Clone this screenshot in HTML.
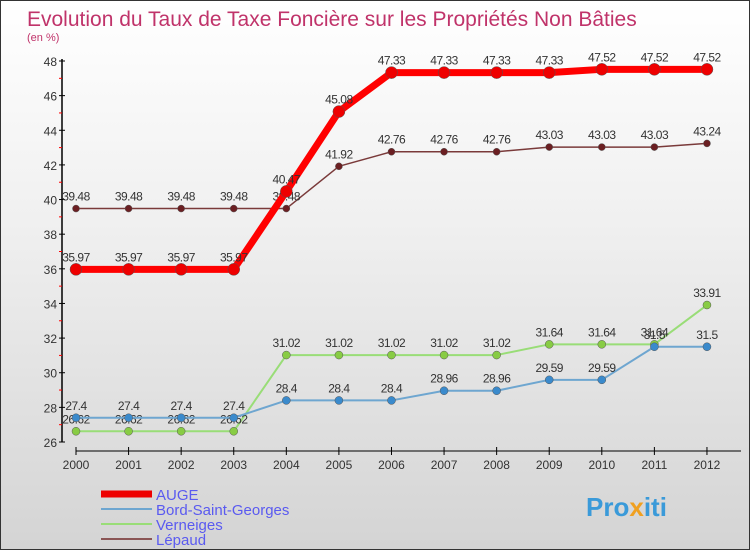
<!DOCTYPE html>
<html><head><meta charset="utf-8"><style>
body{margin:0}
#c{width:750px;height:550px;position:relative;background:linear-gradient(#ffffff,#f0f0f0 40%,#d4d4d4);border:1px solid #333;box-sizing:border-box;overflow:hidden;font-family:"Liberation Sans",sans-serif}
svg{position:absolute;left:0;top:0}
</style></head><body>
<div id="c">
<svg id="s" width="750" height="550">
<text x="26" y="25" font-size="21" fill="#c0336a">Evolution du Taux de Taxe Foncière sur les Propriétés Non Bâties</text>
<text x="26" y="40" font-size="11" fill="#c0336a">(en %)</text>
<text x="585" y="515" font-size="26" font-weight="bold" fill="#3a9ad9">Pro<tspan fill="#f0a020">x</tspan>iti</text>
</svg>
</div>
<script>
const years=[2000,2001,2002,2003,2004,2005,2006,2007,2008,2009,2010,2011,2012];
const auge=[35.97,35.97,35.97,35.97,40.47,45.08,47.33,47.33,47.33,47.33,47.52,47.52,47.52];
const bord=[27.4,27.4,27.4,27.4,28.4,28.4,28.4,28.96,28.96,29.59,29.59,31.5,31.5];
const vern=[26.62,26.62,26.62,26.62,31.02,31.02,31.02,31.02,31.02,31.64,31.64,31.64,33.91];
const lepaud=[39.48,39.48,39.48,39.48,39.48,41.92,42.76,42.76,42.76,43.03,43.03,43.03,43.24];
const yTicks=[26,28,30,32,34,36,38,40,42,44,46,48];
const NS="http://www.w3.org/2000/svg";
const s=document.getElementById('s');
const X=i=>75+i*52.58;
const Y=v=>441-(v-26)*(381/22);
function el(t,a,p){const e=document.createElementNS(NS,t);for(const k in a)e.setAttribute(k,a[k]);(p||s).appendChild(e);return e;}
// axes
let ax=el('line',{x1:61,y1:58,x2:61,y2:441,stroke:'#000','stroke-width':1.5});


let bx=el('line',{x1:75,y1:450,x2:740,y2:450,stroke:'#000','stroke-width':1});


yTicks.forEach(v=>{
 el('line',{x1:58,x2:64,y1:Y(v),y2:Y(v),stroke:'#000'});
 if(v<48)el('line',{x1:58,x2:61,y1:Y(v+1),y2:Y(v+1),stroke:'#f00'});
 const t=el('text',{x:56,y:Y(v)+5,'font-size':12,fill:'#333','text-anchor':'end'});
 t.textContent=v;
 
 
});
years.forEach((y,i)=>{
 el('line',{x1:X(i),x2:X(i),y1:446,y2:454,stroke:'#000'});
 const t=el('text',{x:X(i),y:468,'font-size':12,fill:'#333','text-anchor':'middle'});
 t.textContent=y;
 
 
});
function series(d,col,w,r,name,dot){
 const g=el('g',{});
 
 
 el('polyline',{points:d.map((v,i)=>X(i)+','+Y(v)).join(' '),fill:'none',stroke:col,'stroke-width':w,'stroke-linejoin':'round'},g);
 d.forEach((v,i)=>{
  const c=el('circle',{cx:X(i),cy:Y(v),r:r,fill:dot,stroke:'#555','stroke-width':0.5},g);
  
  
  const t=el('text',{x:X(i),y:Y(v)-8,'font-size':12,fill:'#333','text-anchor':'middle','letter-spacing':'-0.5'},g);
  t.textContent=v;
 });
}
series(lepaud,'#7a3a3a',1.5,3.5,'lepaud','#6b1f22');
series(vern,'#99dd77',2,4,'verneiges','#88cc44');
series(bord,'#6ea6d0',2,4,'bord-saint-georges','#3a8acc');
series(auge,'#ff0000',7,6,'auge','#ee0000');
const leg=[['AUGE','#ee0000',7],['Bord-Saint-Georges','#6ea6d0',2],['Verneiges','#99dd77',2],['Lépaud','#8a5555',2]];
leg.forEach((l,i)=>{
 const g=el('g',{});
 
 
 const yy=493+i*15;
 el('line',{x1:100,x2:151,y1:yy,y2:yy,stroke:l[1],'stroke-width':l[2]},g);
 const t=el('text',{x:155,y:yy+6,'font-size':15,fill:'#5a5af0'},g);
 t.textContent=l[0];
});
</script>
</body></html>
